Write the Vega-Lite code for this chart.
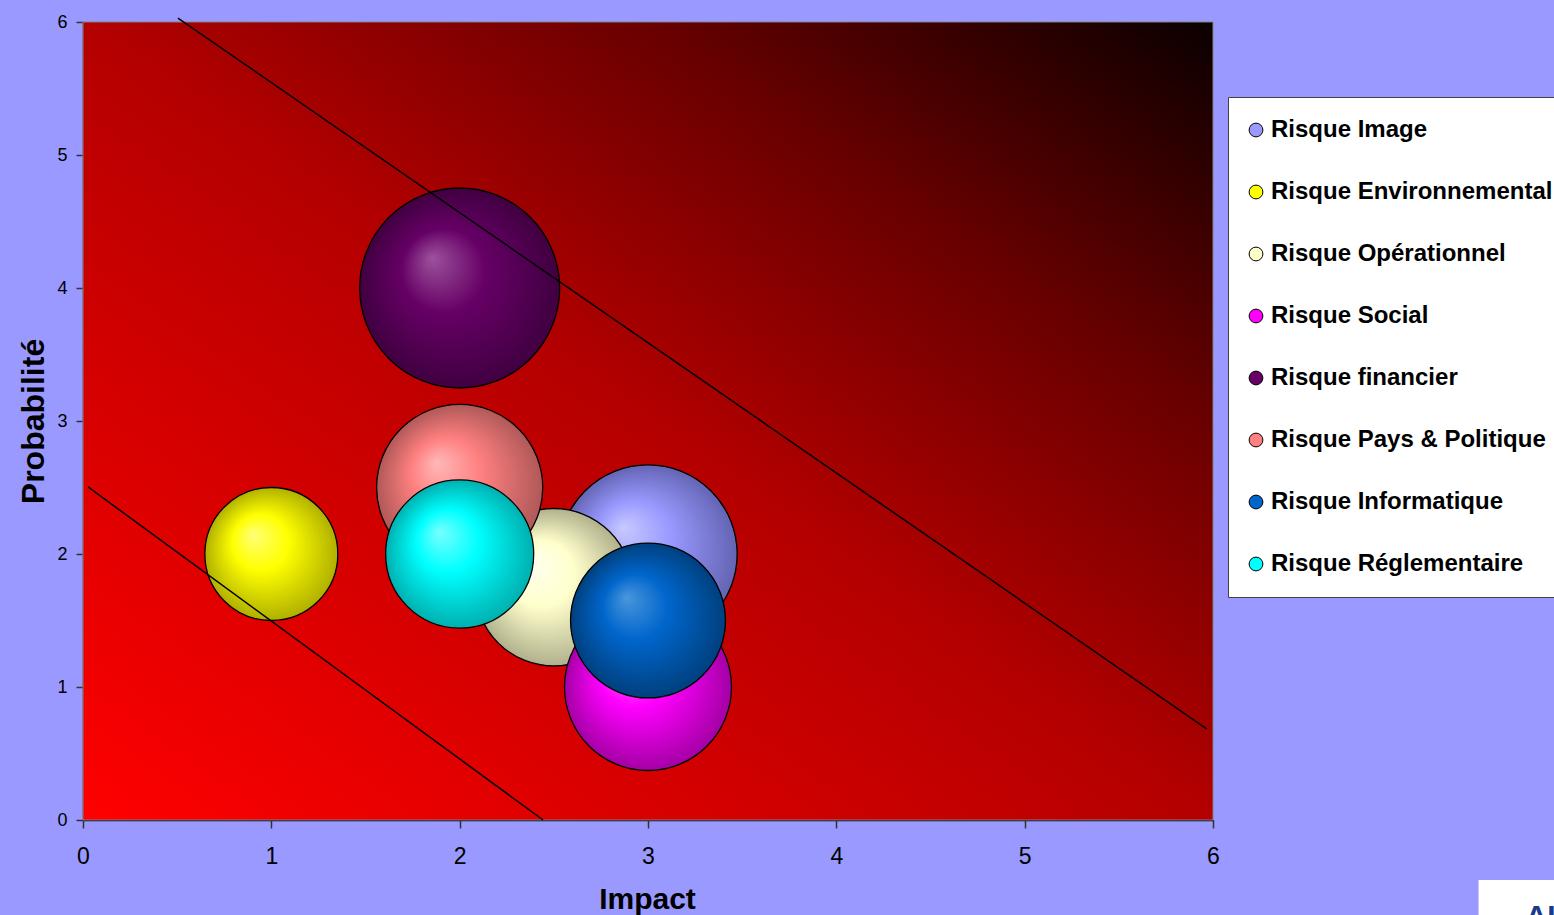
{
  "$schema": "https://vega.github.io/schema/vega-lite/v6.json",
  "width": 1130,
  "height": 798,
  "autosize": {"type": "none"},
  "padding": {"left": 83, "top": 22, "right": 341, "bottom": 95},
  "background": "#9999FF",
  "config": {"view": {"stroke": null}, "font": "Liberation Sans"},
  "datasets": {
    "risques": [
      {"risque": "Risque Image", "impact": 3, "probabilite": 2, "taille": 7.95},
      {"risque": "Risque Environnemental", "impact": 1, "probabilite": 2, "taille": 4.42},
      {"risque": "Risque Opérationnel", "impact": 2.5, "probabilite": 1.75, "taille": 6.2},
      {"risque": "Risque Social", "impact": 3, "probabilite": 1, "taille": 6.97},
      {"risque": "Risque financier", "impact": 2, "probabilite": 4, "taille": 10},
      {"risque": "Risque Pays & Politique", "impact": 2, "probabilite": 2.5, "taille": 6.9},
      {"risque": "Risque Informatique", "impact": 3, "probabilite": 1.5, "taille": 6.0},
      {"risque": "Risque Réglementaire", "impact": 2, "probabilite": 2, "taille": 5.48}
    ],
    "lignes": [
      {"ligne": "haut", "impact": 0.504, "probabilite": 6.03},
      {"ligne": "haut", "impact": 5.968, "probabilite": 0.684},
      {"ligne": "bas", "impact": 0.027, "probabilite": 2.504},
      {"ligne": "bas", "impact": 2.443, "probabilite": 0}
    ],
    "cadre": [{"impact": 0, "impact2": 6, "probabilite": 0, "probabilite2": 6}],
    "logo": [{"impact": 7.41, "impact2": 8.2, "probabilite": -0.451, "probabilite2": -0.9, "texte": "AI"}]
  },
  "encoding": {
    "x": {
      "field": "impact", "type": "quantitative",
      "scale": {"domain": [0, 6], "nice": false, "zero": false},
      "axis": {
        "title": "Impact", "values": [0, 1, 2, 3, 4, 5, 6], "format": "d", "grid": false,
        "tickSize": 8, "tickColor": "#333333", "tickWidth": 1.5,
        "domainColor": "#000000", "domainWidth": 1.5,
        "labelFontSize": 23, "labelPadding": 17, "labelColor": "#000000", "labelFlush": false,
        "titleFontSize": 30, "titleFontWeight": "bold", "titleColor": "#000000",
        "titleX": 564, "titleY": 88, "titleBaseline": "alphabetic"
      }
    },
    "y": {
      "field": "probabilite", "type": "quantitative",
      "scale": {"domain": [0, 6], "nice": false, "zero": false},
      "axis": {
        "title": "Probabilité", "values": [0, 1, 2, 3, 4, 5, 6], "format": "d", "grid": false,
        "tickSize": 7, "tickColor": "#333333", "tickWidth": 1.5,
        "domainColor": "#333333", "domainWidth": 1.5,
        "labelFontSize": 18, "labelPadding": 9, "labelColor": "#000000", "labelFlush": false,
        "titleFontSize": 32, "titleFontWeight": "bold", "titleColor": "#000000",
        "titleAngle": 270, "titleX": -40, "titleY": 399, "titleBaseline": "alphabetic", "titleAlign": "center"
      }
    }
  },
  "layer": [
    {
      "data": {"name": "cadre"},
      "mark": {
        "type": "rect", "stroke": "#808080", "strokeWidth": 1,
        "fill": {
          "gradient": "linear", "x1": 0, "y1": 1, "x2": 1, "y2": 0,
          "stops": [
            {"offset": 0, "color": "#FF0000"},
            {"offset": 0.5, "color": "#B40000"},
            {"offset": 0.75, "color": "#680000"},
            {"offset": 1, "color": "#0A0000"}
          ]
        }
      },
      "encoding": {"x2": {"field": "impact2"}, "y2": {"field": "probabilite2"}}
    },
    {
      "data": {"name": "risques"},
      "mark": {"type": "point", "shape": "circle", "filled": true, "opacity": 1, "size": 1},
      "encoding": {
        "color": {
          "field": "risque", "type": "nominal",
          "scale": {
            "domain": ["Risque Image", "Risque Environnemental", "Risque Opérationnel", "Risque Social", "Risque financier", "Risque Pays & Politique", "Risque Informatique", "Risque Réglementaire"],
            "range": ["#9999FF", "#FFFF00", "#FFFFCC", "#FF00FF", "#660066", "#FF8080", "#0066CC", "#00FFFF"]
          },
          "legend": {
            "title": null, "orient": "none", "legendX": 1145, "legendY": 75,
            "fillColor": "#FFFFFF", "strokeColor": "#404040", "padding": 21, "rowPadding": 38,
            "labelFontSize": 24, "labelFontWeight": "bold", "labelColor": "#000000", "labelFont": "Liberation Sans",
            "labelOffset": 3, "labelLimit": 1000, "symbolOffset": -5,
            "symbolType": "circle", "symbolSize": 190, "symbolStrokeColor": "#000000", "symbolStrokeWidth": 1, "symbolOpacity": 1
          }
        }
      }
    },
    {
      "data": {"name": "risques"},
      "mark": {"type": "point", "shape": "circle", "filled": true, "opacity": 1, "stroke": "#000000", "strokeWidth": 1.3},
      "encoding": {
        "size": {"field": "taille", "type": "quantitative", "scale": {"type": "linear", "domain": [0, 10], "range": [0, 40000], "zero": true}, "legend": null},
        "fill": {
          "condition": [
            {"test": {"field": "risque", "equal": "Risque Image"}, "value": {"gradient": "radial", "x1": 0.36, "y1": 0.35, "r1": 0, "x2": 0.5, "y2": 0.5, "r2": 0.5, "stops": [{"offset": 0, "color": "#C8C8FF"}, {"offset": 0.42, "color": "#9999FF"}, {"offset": 1, "color": "#6464B4"}]}},
            {"test": {"field": "risque", "equal": "Risque Environnemental"}, "value": {"gradient": "radial", "x1": 0.36, "y1": 0.35, "r1": 0, "x2": 0.5, "y2": 0.5, "r2": 0.5, "stops": [{"offset": 0, "color": "#FFFF78"}, {"offset": 0.42, "color": "#FFFF00"}, {"offset": 1, "color": "#B0B000"}]}},
            {"test": {"field": "risque", "equal": "Risque Opérationnel"}, "value": {"gradient": "radial", "x1": 0.36, "y1": 0.35, "r1": 0, "x2": 0.5, "y2": 0.5, "r2": 0.5, "stops": [{"offset": 0, "color": "#FFFFF0"}, {"offset": 0.42, "color": "#FFFFCC"}, {"offset": 1, "color": "#B0B08C"}]}},
            {"test": {"field": "risque", "equal": "Risque Social"}, "value": {"gradient": "radial", "x1": 0.36, "y1": 0.35, "r1": 0, "x2": 0.5, "y2": 0.5, "r2": 0.5, "stops": [{"offset": 0, "color": "#FF70FF"}, {"offset": 0.42, "color": "#FF00FF"}, {"offset": 1, "color": "#A400A4"}]}},
            {"test": {"field": "risque", "equal": "Risque financier"}, "value": {"gradient": "radial", "x1": 0.36, "y1": 0.35, "r1": 0, "x2": 0.5, "y2": 0.5, "r2": 0.5, "stops": [{"offset": 0, "color": "#9C529C"}, {"offset": 0.42, "color": "#660066"}, {"offset": 1, "color": "#400040"}]}},
            {"test": {"field": "risque", "equal": "Risque Pays & Politique"}, "value": {"gradient": "radial", "x1": 0.36, "y1": 0.35, "r1": 0, "x2": 0.5, "y2": 0.5, "r2": 0.5, "stops": [{"offset": 0, "color": "#FFB8B8"}, {"offset": 0.42, "color": "#FF8080"}, {"offset": 1, "color": "#B05858"}]}},
            {"test": {"field": "risque", "equal": "Risque Informatique"}, "value": {"gradient": "radial", "x1": 0.36, "y1": 0.35, "r1": 0, "x2": 0.5, "y2": 0.5, "r2": 0.5, "stops": [{"offset": 0, "color": "#4A96DC"}, {"offset": 0.42, "color": "#0066CC"}, {"offset": 1, "color": "#00407E"}]}},
            {"test": {"field": "risque", "equal": "Risque Réglementaire"}, "value": {"gradient": "radial", "x1": 0.36, "y1": 0.35, "r1": 0, "x2": 0.5, "y2": 0.5, "r2": 0.5, "stops": [{"offset": 0, "color": "#78FFFF"}, {"offset": 0.42, "color": "#00FFFF"}, {"offset": 1, "color": "#00B0B0"}]}}
          ],
          "value": "#999999"
        }
      }
    },
    {
      "data": {"name": "lignes"},
      "mark": {"type": "line", "color": "#000000", "strokeWidth": 1.5},
      "encoding": {"detail": {"field": "ligne", "type": "nominal"}}
    },
    {
      "data": {"name": "logo"},
      "mark": {"type": "rect", "fill": "#FFFFFF"},
      "encoding": {"x2": {"field": "impact2"}, "y2": {"field": "probabilite2"}}
    },
    {
      "data": {"name": "logo"},
      "mark": {"type": "text", "fill": "#1A3A8C", "fontSize": 30, "fontWeight": "bold", "align": "left", "baseline": "top", "dx": 47, "dy": 22},
      "encoding": {"text": {"field": "texte"}}
    }
  ]
}
